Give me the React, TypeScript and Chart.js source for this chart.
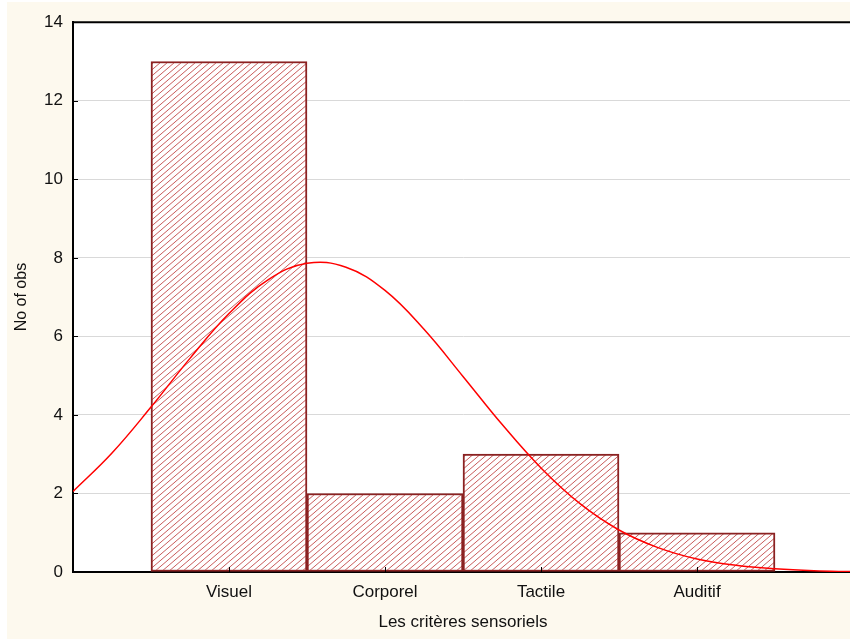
import React, { useEffect, useRef } from 'react';
import { Chart, registerables } from 'chart.js';

Chart.register(...registerables);

const categories = ['Visuel', 'Corporel', 'Tactile', 'Auditif'];
const categoryPositions = [1, 2, 3, 4];
const counts = [13, 2, 3, 1];
const yTicks = [0, 2, 4, 6, 8, 10, 12, 14];
const curveX = [0, 0.25, 0.5, 0.75, 1, 1.25, 1.5, 1.75, 2, 2.25, 2.5, 2.75, 3, 3.25, 3.5, 3.75, 4, 4.25, 4.5, 4.75, 5];
const curveY = [2.05, 3.03, 4.2, 5.44, 6.58, 7.44, 7.86, 7.76, 7.17, 6.18, 4.98, 3.76, 2.65, 1.74, 1.07, 0.62, 0.33, 0.17, 0.08, 0.03, 0.01];

const FONT = 'Liberation Sans, Arial, sans-serif';
const TEXT = '#111111';

function makeHatch(ctx: CanvasRenderingContext2D) {
  const w = 7;
  const h = 6;
  const c = document.createElement('canvas');
  c.width = w;
  c.height = h;
  const g = c.getContext('2d')!;
  g.fillStyle = '#ffffff';
  g.fillRect(0, 0, w, h);
  g.strokeStyle = '#c85c5c';
  g.lineWidth = 1;
  g.beginPath();
  for (const dx of [-w, 0, w]) {
    g.moveTo(dx - 1, h + h / w);
    g.lineTo(dx + w + 1, -h / w);
  }
  g.stroke();
  return ctx.createPattern(c, 'repeat')!;
}

const framePlugin = {
  id: 'frame',
  beforeDraw(chart: any) {
    const { ctx, chartArea } = chart;
    ctx.save();
    ctx.fillStyle = '#ffffff';
    ctx.fillRect(chartArea.left, chartArea.top, chartArea.right - chartArea.left, chartArea.bottom - chartArea.top);
    ctx.restore();
  },
  afterDraw(chart: any) {
    const { ctx, chartArea, scales } = chart;
    const { left, right, top, bottom } = chartArea;
    ctx.save();
    ctx.strokeStyle = '#000000';
    ctx.lineWidth = 2;
    ctx.beginPath();
    ctx.moveTo(left - 1, top);
    ctx.lineTo(right, top);
    ctx.stroke();
    ctx.lineWidth = 1;
    ctx.beginPath();
    yTicks.forEach((v) => {
      const py = Math.round(scales.y.getPixelForValue(v)) + 0.5;
      ctx.moveTo(left, py);
      ctx.lineTo(left + 5, py);
    });
    categoryPositions.forEach((v) => {
      const px = Math.round(scales.x.getPixelForValue(v)) + 0.5;
      ctx.moveTo(px, bottom);
      ctx.lineTo(px, bottom - 5);
    });
    ctx.stroke();
    ctx.restore();
  },
};

export default function App() {
  const ref = useRef<HTMLCanvasElement>(null);

  useEffect(() => {
    document.body.style.margin = '0';
    document.body.style.overflow = 'hidden';
    const canvas = ref.current!;
    const ctx = canvas.getContext('2d')!;
    const hatch = makeHatch(ctx);
    const chart = new Chart(ctx, {
      type: 'bar',
      data: {
        datasets: [
          {
            type: 'line',
            data: curveX.map((x, i) => ({ x, y: curveY[i] })),
            borderColor: '#ff0000',
            borderWidth: 1.5,
            pointRadius: 0,
            fill: false,
            tension: 0.4,
            order: 0,
          } as any,
          {
            type: 'bar',
            data: categoryPositions.map((x, i) => ({ x, y: counts[i] })),
            backgroundColor: hatch as any,
            borderColor: '#8b2222',
            borderWidth: 2,
            borderSkipped: false,
            barPercentage: 1,
            categoryPercentage: 1,
            order: 1,
          } as any,
        ],
      },
      options: {
        animation: false,
        responsive: true,
        maintainAspectRatio: false,
        layout: { padding: { top: 20, right: 0, left: 0, bottom: 0 } },
        plugins: { legend: { display: false }, tooltip: { enabled: false } },
        scales: {
          x: {
            type: 'linear',
            min: 0,
            max: 5,
            offset: false,
            afterBuildTicks: (scale: any) => {
              scale.ticks = categoryPositions.map((v) => ({ value: v }));
            },
            afterFit: (scale: any) => {
              scale.height = 67;
            },
            ticks: {
              autoSkip: false,
              maxRotation: 0,
              padding: 10,
              color: TEXT,
              font: { family: FONT, size: 17 },
              callback: (v: any) => {
                const i = categoryPositions.indexOf(Number(v));
                return i >= 0 ? categories[i] : '';
              },
            },
            grid: { display: false, drawTicks: false },
            border: { color: '#000000', width: 2 },
            title: {
              display: true,
              text: 'Les critères sensoriels',
              color: TEXT,
              font: { family: FONT, size: 17 },
              padding: { top: 0, bottom: 6 },
            },
          },
          y: {
            type: 'linear',
            min: 0,
            max: 14,
            afterBuildTicks: (scale: any) => {
              scale.ticks = yTicks.map((v) => ({ value: v }));
            },
            afterFit: (scale: any) => {
              scale.width = 66;
            },
            ticks: {
              padding: 10,
              color: TEXT,
              font: { family: FONT, size: 17 },
            },
            grid: {
              drawTicks: false,
              color: (c: any) => (c.tick && (c.tick.value === 0 || c.tick.value === 14) ? 'rgba(0,0,0,0)' : '#d9d9d9'),
              lineWidth: 1,
            },
            border: { color: '#000000', width: 2 },
            title: {
              display: true,
              text: 'No of obs',
              color: TEXT,
              font: { family: FONT, size: 16 },
              padding: { top: 5, bottom: 0 },
            },
          },
        },
      },
      plugins: [framePlugin],
    });
    return () => chart.destroy();
  }, []);

  return (
    <div
      style={{
        position: 'fixed',
        left: 7,
        top: 2,
        width: 843,
        height: 637,
        overflow: 'hidden',
        background: '#fdf9ee',
      }}
    >
      <div style={{ position: 'absolute', left: 0, top: 0, width: 846, height: 637 }}>
        <canvas ref={ref} />
      </div>
    </div>
  );
}
